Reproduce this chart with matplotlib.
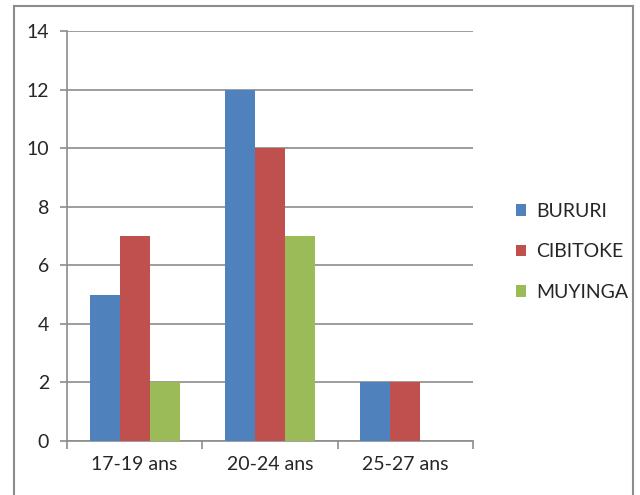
import numpy as np
import matplotlib.pyplot as plt
from matplotlib.lines import Line2D

plt.rcParams['font.family'] = ['Lato', 'DejaVu Sans']

categories = ['17-19 ans', '20-24 ans', '25-27 ans']
bururi = [5, 12, 2]
cibitoke = [7, 10, 2]
muyinga = [2, 7, 0]
series = [('BURURI', bururi, '#4F81BD'),
          ('CIBITOKE', cibitoke, '#C0504D'),
          ('MUYINGA', muyinga, '#9BBB59')]

grey = '#8C8C8C'
text_col = '#262626'
fs = 14

fig = plt.figure(figsize=(6.4, 4.95), dpi=100)
ax = fig.add_axes([67/640, 54/495, 406/640, 410/495])

x = np.arange(len(categories))
w = 1 / 4.5   # gap width 150 %
for i, (name, vals, col) in enumerate(series):
    ax.bar(x + (i - 1) * w, vals, width=w, color=col, label=name, zorder=3)

ax.set_xlim(-0.5, len(categories) - 0.5)
ax.set_ylim(0, 14)
ax.set_yticks(np.arange(0, 15, 2))
ax.yaxis.grid(True, color=grey, lw=1.2, zorder=0)

ax.set_xticks(x)
ax.set_xticklabels(categories)
ax.set_xticks(np.arange(-0.5, len(categories), 1), minor=True)
ax.tick_params(axis='x', which='major', length=0, pad=11, labelsize=fs, labelcolor=text_col)
ax.tick_params(axis='x', which='minor', length=6, width=1.2, color=grey, direction='out')
ax.tick_params(axis='y', length=5, width=1.2, color=grey, pad=8, labelsize=fs, labelcolor=text_col)

for s in ['top', 'right']:
    ax.spines[s].set_visible(False)
for s in ['left', 'bottom']:
    ax.spines[s].set_color(grey)
    ax.spines[s].set_linewidth(1.2)

leg = ax.legend(loc='center left', bbox_to_anchor=(506/640, 1 - 252/495), bbox_transform=fig.transFigure,
                frameon=False, fontsize=fs, handlelength=0.55, handleheight=0.55,
                handletextpad=0.5, labelspacing=1.22, borderpad=0)
for t in leg.get_texts():
    t.set_color(text_col)

# chart frame
fx0, fx1, fy1 = 14/640, 633/640, 1 - 6/495
for xs, ys in [([fx0, fx0], [0, fy1]), ([fx0, fx1], [fy1, fy1]), ([fx1, fx1], [fy1, 0])]:
    fig.add_artist(Line2D(xs, ys, transform=fig.transFigure, color=grey, lw=1.5))

fig.savefig('out.png', dpi=100)
